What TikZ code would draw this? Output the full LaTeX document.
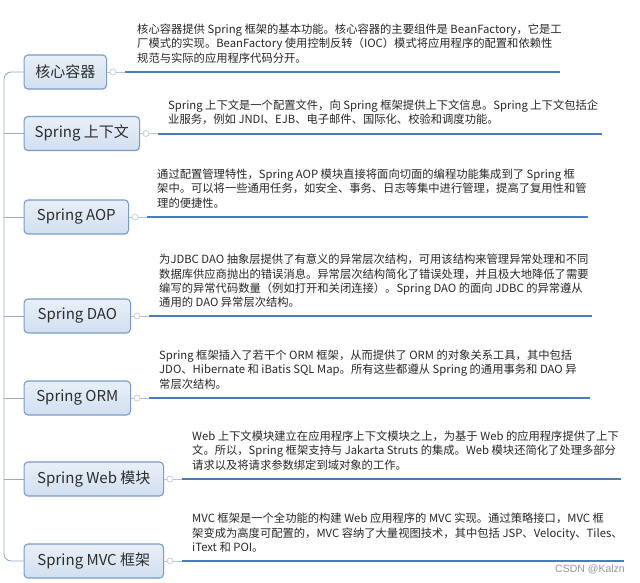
\documentclass[tikz,border=0pt]{standalone}
\usepackage{fontspec}
\setmainfont{Noto Sans CJK SC}
\newfontfamily\wmfont{Liberation Sans}
\definecolor{boxborder}{RGB}{122,155,200}
\definecolor{boxtop}{RGB}{232,239,248}
\definecolor{boxbot}{RGB}{210,223,240}
\definecolor{labeltext}{RGB}{45,45,45}
\definecolor{desctext}{RGB}{40,40,40}
\definecolor{blueline}{RGB}{74,126,187}
\definecolor{treecol}{RGB}{150,170,200}
\definecolor{knobcol}{RGB}{185,196,212}
\definecolor{wmcol}{RGB}{150,150,150}
\tikzset{
  modbox/.style={draw=boxborder, line width=1.1pt, rounded corners=4pt,
    top color=boxtop, bottom color=boxbot, minimum height=34pt, inner sep=0pt,
    font=\fontsize{15}{18}\selectfont, text=labeltext, anchor=west},
  desc/.style={anchor=north west, inner sep=0pt, align=left,
    font=\fontsize{11.3}{14.2}\selectfont, text=desctext},
  uline/.style={draw=blueline, line width=2pt},
  tree/.style={draw=treecol, line width=0.9pt},
  knob/.style={circle, draw=knobcol, line width=0.6pt, fill=white,
    minimum size=6pt, inner sep=0pt},
  thinlink/.style={draw=knobcol, line width=0.6pt}
}
\begin{document}
\begin{tikzpicture}[x=1pt,y=-1pt]
\useasboundingbox (0,0) rectangle (640,582);
\fill[white] (0,0) rectangle (640,582);

% ---------- boxes ----------
\node[modbox, minimum width=82.5pt]  (b1) at (23.5,72)    {核心容器};
\node[modbox, minimum width=115.5pt] (b2) at (23.5,133.5) {Spring 上下文};
\node[modbox, minimum width=104.5pt] (b3) at (23.5,217)   {Spring AOP};
\node[modbox, minimum width=106.5pt] (b4) at (23.5,316)   {Spring DAO};
\node[modbox, minimum width=106.5pt] (b5) at (23.5,398)   {Spring ORM};
\node[modbox, minimum width=139.5pt] (b6) at (23.5,479)   {Spring Web 模块};
\node[modbox, minimum width=139.5pt] (b7) at (23.5,561)   {Spring MVC 框架};

% ---------- spine ----------
\coordinate (sp1) at (4,72);
\coordinate (sp2) at (4,133.5);
\coordinate (sp3) at (4,217);
\coordinate (sp4) at (4,316);
\coordinate (sp5) at (4,398);
\coordinate (sp6) at (4,479);
\coordinate (sp7) at (4,561);
\draw[tree, rounded corners=7pt] (b1.west) -- (sp1) -- (sp7) -- (b7.west);
\draw[tree] (sp2) -- (b2.west);
\draw[tree] (sp3) -- (b3.west);
\draw[tree] (sp4) -- (b4.west);
\draw[tree] (sp5) -- (b5.west);
\draw[tree] (sp6) -- (b6.west);

% ---------- knobs, underlines ----------
\node[knob] (k1) at (113,72) {};
\node[knob] (k2) at (146,133.5) {};
\node[knob] (k3) at (135,217) {};
\node[knob] (k4) at (137,316) {};
\node[knob] (k5) at (137,398) {};
\node[knob] (k6) at (170,479) {};
\node[knob] (k7) at (170,561) {};

\coordinate (ls1) at (125,72);    \coordinate (le1) at (560,72);
\coordinate (ls2) at (158,133.5); \coordinate (le2) at (602,133.5);
\coordinate (ls3) at (147,217);   \coordinate (le3) at (588,217);
\coordinate (ls4) at (149,316);   \coordinate (le4) at (592,316);
\coordinate (ls5) at (149,398);   \coordinate (le5) at (590,398);
\coordinate (ls6) at (182,479);   \coordinate (le6) at (621,479);
\coordinate (ls7) at (182,561);   \coordinate (le7) at (624,561);

\foreach \i in {1,...,7}{
  \draw[thinlink] (b\i.east) -- (k\i.west);
  \draw[thinlink] (k\i.east) -- (ls\i);
  \draw[uline] (ls\i) -- (le\i);
}

% ---------- descriptions ----------
\node[desc] (d1) at (137,24) {核心容器提供 Spring 框架的基本功能。核心容器的主要组件是 BeanFactory，它是工\\
厂模式的实现。BeanFactory 使用控制反转（IOC）模式将应用程序的配置和依赖性\\
规范与实际的应用程序代码分开。};

\node[desc] (d2) at (168,99.8) {Spring 上下文是一个配置文件，向 Spring 框架提供上下文信息。Spring 上下文包括企\\
业服务，例如 JNDI、EJB、电子邮件、国际化、校验和调度功能。};

\node[desc] (d3) at (157,169) {通过配置管理特性，Spring AOP 模块直接将面向切面的编程功能集成到了 Spring 框\\
架中。可以将一些通用任务，如安全、事务、日志等集中进行管理，提高了复用性和管\\
理的便捷性。};

\node[desc] (d4) at (159,254) {为JDBC DAO 抽象层提供了有意义的异常层次结构，可用该结构来管理异常处理和不同\\
数据库供应商抛出的错误消息。异常层次结构简化了错误处理，并且极大地降低了需要\\
编写的异常代码数量（例如打开和关闭连接）。Spring DAO 的面向 JDBC 的异常遵从\\
通用的 DAO 异常层次结构。};

\node[desc] (d5) at (159,350) {Spring 框架插入了若干个 ORM 框架，从而提供了 ORM 的对象关系工具，其中包括\\
JDO、Hibernate 和 iBatis SQL Map。所有这些都遵从 Spring 的通用事务和 DAO 异\\
常层次结构。};

\node[desc] (d6) at (192,431) {Web 上下文模块建立在应用程序上下文模块之上，为基于 Web 的应用程序提供了上下\\
文。所以，Spring 框架支持与 Jakarta Struts 的集成。Web 模块还简化了处理多部分\\
请求以及将请求参数绑定到域对象的工作。};

\node[desc] (d7) at (192,513) {MVC 框架是一个全功能的构建 Web 应用程序的 MVC 实现。通过策略接口，MVC 框\\
架变成为高度可配置的，MVC 容纳了大量视图技术，其中包括 JSP、Velocity、Tiles、\\
iText 和 POI。};

% ---------- watermark ----------
\node[anchor=east, inner sep=0pt, text=wmcol, font=\wmfont\fontsize{10.5}{12}\selectfont] (wm) at (625,569) {CSDN @Kalzn};
\end{tikzpicture}
\end{document}
